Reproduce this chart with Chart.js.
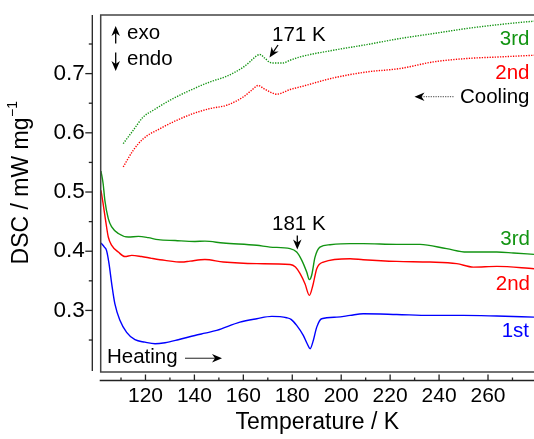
<!DOCTYPE html>
<html>
<head>
<meta charset="utf-8">
<script src="https://cdn.jsdelivr.net/npm/chart.js@4"></script>
<style>
  html, body { margin: 0; padding: 0; background: #fff; overflow: hidden; }
  #wrap { width: 534px; height: 439px; position: relative; }
</style>
</head>
<body>
<div id="wrap"><canvas id="dsc"></canvas></div>
<script>
// ---------- DATA ----------
var xTickLabels = [120, 140, 160, 180, 200, 220, 240, 260];
var yTickLabels = [0.3, 0.4, 0.5, 0.6, 0.7];

// heating runs (solid)
var tempHeat1 = [101.8, 103.2, 104.1, 105.1, 106.2, 107.5, 109.6, 112.3, 115.7, 119.8, 123.9, 128.0, 133.4, 140.2, 144.3, 149.1, 158.6, 165.5, 171.6, 177.7, 179.5, 181.8, 184.5, 186.1, 187.3, 188.4, 190.0, 192.0, 198.2, 203.6, 209.0, 222.7, 236.3, 249.9, 263.6, 278.8];
var dscHeat1  = [0.4138, 0.407, 0.401, 0.379, 0.345, 0.311, 0.283, 0.263, 0.2505, 0.2464, 0.2437, 0.2455, 0.2505, 0.2577, 0.2616, 0.2662, 0.2802, 0.286, 0.2899, 0.2877, 0.285, 0.2747, 0.2578, 0.2437, 0.2353, 0.2464, 0.2718, 0.286, 0.2887, 0.2916, 0.2944, 0.2932, 0.2916, 0.2916, 0.2905, 0.2887];

var tempHeat2 = [101.8, 102.7, 103.7, 104.8, 106.2, 108.9, 111.6, 114.4, 118.4, 122.5, 128.0, 134.8, 138.2, 144.3, 151.8, 165.5, 179.1, 181.3, 183.2, 185.2, 187.0, 188.4, 190.0, 192.7, 203.6, 209.0, 222.7, 236.3, 247.2, 254.0, 263.6, 278.8];
var dscHeat2  = [0.503, 0.480, 0.452, 0.424, 0.410, 0.3986, 0.391, 0.393, 0.391, 0.388, 0.3845, 0.3817, 0.3833, 0.386, 0.3817, 0.379, 0.3775, 0.3732, 0.362, 0.345, 0.3254, 0.342, 0.3705, 0.3817, 0.3874, 0.3857, 0.3828, 0.3817, 0.379, 0.3732, 0.3744, 0.3705];

var tempHeat3 = [101.8, 102.7, 103.4, 104.8, 106.2, 108.9, 113.0, 117.1, 121.1, 125.2, 132.1, 140.2, 144.3, 151.8, 165.5, 170.9, 179.1, 181.8, 183.9, 185.9, 187.0, 187.9, 189.3, 191.3, 195.4, 203.6, 209.0, 222.7, 232.2, 243.1, 251.3, 263.6, 270.4, 278.8];
var dscHeat3  = [0.5355, 0.514, 0.486, 0.455, 0.441, 0.430, 0.424, 0.425, 0.423, 0.4195, 0.418, 0.4165, 0.417, 0.4138, 0.410, 0.407, 0.4043, 0.3986, 0.3845, 0.3648, 0.352, 0.359, 0.390, 0.407, 0.411, 0.4128, 0.4128, 0.4116, 0.4116, 0.4043, 0.3986, 0.3986, 0.397, 0.3947];

// cooling runs (dotted)
var tempCool2 = [110.9, 115.0, 119.1, 125.9, 132.8, 139.5, 146.4, 153.2, 160.0, 163.4, 166.1, 168.2, 170.9, 173.6, 179.1, 183.2, 196.8, 210.4, 224.1, 237.7, 251.3, 264.9, 278.8];
var dscCool2  = [0.5423, 0.5705, 0.590, 0.607, 0.6212, 0.6325, 0.641, 0.6466, 0.6606, 0.672, 0.680, 0.675, 0.669, 0.6652, 0.6731, 0.6775, 0.6927, 0.7028, 0.7086, 0.7198, 0.7255, 0.7282, 0.731];

var tempCool3 = [110.9, 115.0, 119.1, 123.2, 130.0, 136.8, 146.4, 153.2, 160.0, 162.7, 164.1, 166.8, 168.9, 170.9, 172.2, 176.3, 179.1, 183.2, 196.8, 210.4, 224.1, 237.7, 251.3, 264.9, 278.8];
var dscCool3  = [0.5818, 0.6043, 0.6268, 0.6381, 0.655, 0.669, 0.686, 0.6955, 0.711, 0.720, 0.7255, 0.7323, 0.7255, 0.7188, 0.718, 0.718, 0.7226, 0.7282, 0.7395, 0.749, 0.7593, 0.7677, 0.7762, 0.783, 0.7886];

var GREEN = "#129412";
var RED = "#ff0000";
var BLUE = "#0000ff";
var FONT = "'Liberation Sans', Arial, sans-serif";

function pts(xs, ys) {
  return xs.map(function(x, i) { return {x: x, y: ys[i]}; });
}

function line(data, color, dotted) {
  return {
    data: data,
    borderColor: color,
    borderWidth: 1.4,
    borderDash: dotted ? [1.3, 1.3] : [],
    pointRadius: 0,
    fill: false,
    cubicInterpolationMode: "monotone"
  };
}

function arrowHead(ctx, x, y, ang, len, w) {
  ctx.save();
  ctx.translate(x, y);
  ctx.rotate(ang);
  ctx.beginPath();
  ctx.moveTo(0, 0);
  ctx.lineTo(-len, -w / 2);
  ctx.lineTo(-len * 0.7, 0);
  ctx.lineTo(-len, w / 2);
  ctx.closePath();
  ctx.fill();
  ctx.restore();
}

function arrow(ctx, x1, y1, x2, y2, lineColor, dash) {
  var ang = Math.atan2(y2 - y1, x2 - x1);
  ctx.save();
  ctx.strokeStyle = lineColor;
  ctx.lineWidth = 1.3;
  ctx.setLineDash(dash || []);
  ctx.beginPath();
  ctx.moveTo(x1, y1);
  ctx.lineTo(x2 - Math.cos(ang) * 6, y2 - Math.sin(ang) * 6);
  ctx.stroke();
  ctx.setLineDash([]);
  ctx.fillStyle = "#000";
  arrowHead(ctx, x2, y2, ang, 10, 8.5);
  ctx.restore();
}

// frame, offset axes, minor ticks and labels
var framePlugin = {
  id: "frame",
  afterDatasetsDraw: function(chart) {
    var ctx = chart.ctx;
    var a = chart.chartArea;
    var xs = chart.scales.x, ys = chart.scales.y;
    ctx.save();

    // box (open on the right, runs off the page)
    ctx.strokeStyle = "#444";
    ctx.lineWidth = 1.5;
    ctx.beginPath();
    ctx.moveTo(chart.width, a.top);
    ctx.lineTo(a.left, a.top);
    ctx.lineTo(a.left, a.bottom);
    ctx.lineTo(chart.width, a.bottom);
    ctx.stroke();

    // detached y axis
    var yax = a.left - 8.4;
    ctx.strokeStyle = "#222";
    ctx.lineWidth = 1.3;
    ctx.beginPath();
    ctx.moveTo(yax, a.top);
    ctx.lineTo(yax, a.bottom - 1);
    ctx.stroke();
    for (var v = 0.25; v <= 0.751; v += 0.05) {
      var py = ys.getPixelForValue(v);
      var major = Math.abs(Math.round(v * 10) - v * 10) < 0.01;
      ctx.beginPath();
      ctx.moveTo(yax, py);
      ctx.lineTo(yax - (major ? 7 : 3.5), py);
      ctx.stroke();
    }

    // detached x axis
    var xax = a.bottom + 8.5;
    ctx.beginPath();
    ctx.moveTo(a.left - 1, xax);
    ctx.lineTo(chart.width, xax);
    ctx.stroke();
    for (var t = 110; t <= 270; t += 10) {
      var px = xs.getPixelForValue(t);
      var maj = t % 20 === 0;
      ctx.beginPath();
      ctx.moveTo(px, xax);
      ctx.lineTo(px, xax - (maj ? 6 : 3));
      ctx.stroke();
    }

    // y title with superscript
    ctx.save();
    ctx.translate(21.5, 183);
    ctx.rotate(-Math.PI / 2);
    ctx.fillStyle = "#000";
    ctx.textBaseline = "middle";
    ctx.font = "23px " + FONT;
    var main = "DSC / mW mg";
    var wMain = ctx.measureText(main).width;
    ctx.font = "14px " + FONT;
    var sup = "\u22121";
    var wSup = ctx.measureText(sup).width;
    var x0 = -(wMain + wSup) / 2;
    ctx.font = "23px " + FONT;
    ctx.textAlign = "left";
    ctx.fillText(main, x0, 0);
    ctx.font = "14px " + FONT;
    ctx.fillText(sup, x0 + wMain + 0.5, -8);
    ctx.restore();

    // annotations
    ctx.fillStyle = "#000";
    ctx.font = "20.5px " + FONT;
    ctx.textBaseline = "alphabetic";
    ctx.textAlign = "left";
    ctx.fillText("exo", 127, 39);
    ctx.fillText("endo", 127, 65);
    arrow(ctx, 115.7, 43.5, 115.7, 26, "#000");
    arrow(ctx, 115.7, 52.5, 115.7, 71, "#000");

    ctx.fillText("171 K", 272, 41);
    arrow(ctx, 278, 45, 269.5, 57.5, "#000");
    ctx.fillText("181 K", 272, 229.5);
    arrow(ctx, 297.3, 235.5, 297.3, 249.5, "#000");

    ctx.fillText("Heating", 107, 362.7);
    arrow(ctx, 185, 358.3, 222, 358.3, "#555");

    ctx.textAlign = "right";
    ctx.fillText("Cooling", 529.5, 102.5);
    arrow(ctx, 453.5, 96.7, 414.5, 96.7, "#666", [1.2, 1.2]);

    ctx.fillStyle = GREEN;
    ctx.fillText("3rd", 529.5, 44.5);
    ctx.fillText("3rd", 530, 244.5);
    ctx.fillStyle = RED;
    ctx.fillText("2nd", 529.5, 78.5);
    ctx.fillText("2nd", 530, 289.5);
    ctx.fillStyle = BLUE;
    ctx.fillText("1st", 529, 337);

    ctx.restore();
  }
};

new Chart(document.getElementById("dsc"), {
  type: "line",
  data: {
    datasets: [
      line(pts(tempCool3, dscCool3), GREEN, true),
      line(pts(tempCool2, dscCool2), RED, true),
      line(pts(tempHeat3, dscHeat3), GREEN, false),
      line(pts(tempHeat2, dscHeat2), RED, false),
      line(pts(tempHeat1, dscHeat1), BLUE, false)
    ]
  },
  options: {
    responsive: true,
    maintainAspectRatio: false,
    animation: false,
    layout: { padding: { top: 15, right: 0, left: 0, bottom: 0 } },
    plugins: {
      legend: { display: false },
      tooltip: { enabled: false }
    },
    scales: {
      x: {
        type: "linear",
        min: 101.7,
        max: 278.8,
        grid: { display: false, drawTicks: false },
        border: { display: false },
        afterBuildTicks: function(scale) {
          scale.ticks = xTickLabels.map(function(v) { return {value: v}; });
        },
        afterFit: function(scale) {
          scale.height = 67;
          scale.paddingLeft = 0;
          scale.paddingRight = 0;
        },
        ticks: {
          color: "#000",
          padding: 11.5,
          maxRotation: 0,
          autoSkip: false,
          font: { family: FONT, size: 21 },
          callback: function(v) { return String(v); }
        },
        title: {
          display: true,
          text: "Temperature / K",
          color: "#000",
          font: { family: FONT, size: 23 },
          padding: { top: 0, bottom: 2.5 }
        }
      },
      y: {
        type: "linear",
        min: 0.196,
        max: 0.799,
        grid: { display: false, drawTicks: false },
        border: { display: false },
        afterBuildTicks: function(scale) {
          scale.ticks = yTickLabels.map(function(v) { return {value: v}; });
        },
        afterFit: function(scale) {
          scale.width = 100.7;
          scale.paddingTop = 0;
          scale.paddingBottom = 0;
        },
        ticks: {
          color: "#000",
          padding: 16,
          autoSkip: false,
          font: { family: FONT, size: 22.5 },
          callback: function(v) { return v.toFixed(1); }
        }
      }
    }
  },
  plugins: [framePlugin]
});
</script>
</body>
</html>
